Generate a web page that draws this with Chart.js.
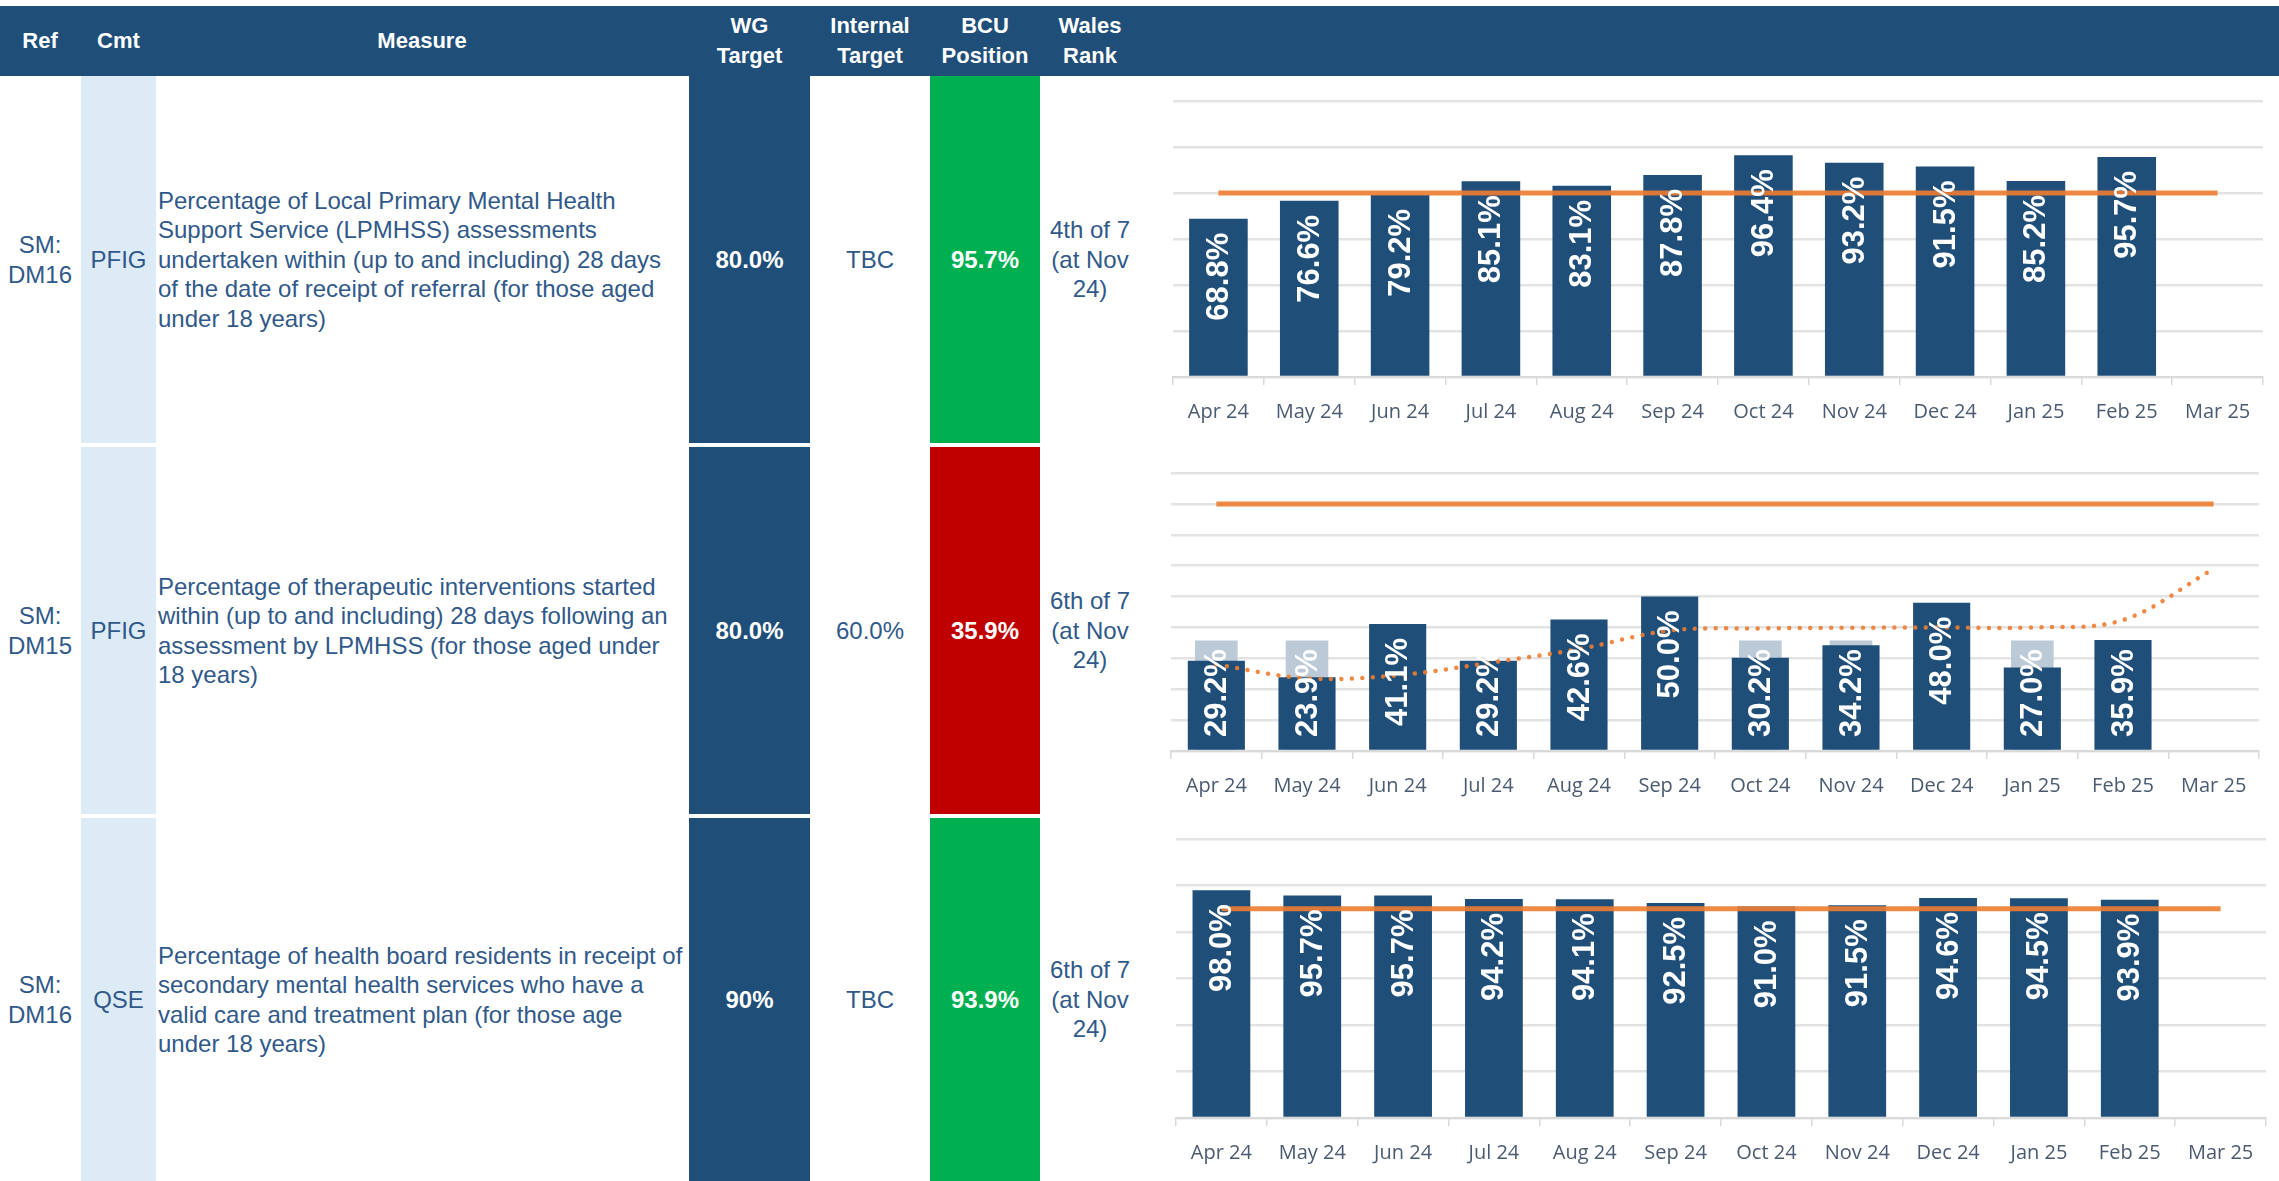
<!DOCTYPE html>
<html>
<head>
<meta charset="utf-8">
<script src="https://cdn.jsdelivr.net/npm/chart.js@4.4.1/dist/chart.umd.min.js"></script>
<style>
  html, body { margin: 0; padding: 0; background: #fff; }
  body { width: 2279px; height: 1181px; position: relative; overflow: hidden;
         font-family: "Liberation Sans", Arial, sans-serif; color: #30598a; }
  .box { position: absolute; display: flex; align-items: center; justify-content: center;
         text-align: center; white-space: nowrap; box-sizing: border-box; }
  .head { position: absolute; left: 0; top: 6px; width: 2279px; height: 70px; background: #1f4e79; }
  .hcell { color: #fff; font-weight: bold; font-size: 22px; line-height: 30px; top: 6px; height: 70px; }
  .cell { font-size: 24px; line-height: 29.5px; }
  .measure { justify-content: flex-start; text-align: left; }
  .dark { background: #1f4e79; color: #fff; font-weight: bold; }
  .light { background: #ddebf7; }
  .pos { color: #fff; font-weight: bold; }
  .chartbox { position: absolute; left: 1160px; }
</style>
</head>
<body>
<div class="head"></div>
<div id="table"></div>

<div class="chartbox" style="top:76px;width:1119px;height:367px"><canvas id="chartDm16" width="1119" height="367"></canvas></div>
<div class="chartbox" style="top:447px;width:1119px;height:367px"><canvas id="chartDm15" width="1119" height="367"></canvas></div>
<div class="chartbox" style="top:818px;width:1119px;height:363px"><canvas id="chartCtp" width="1119" height="363"></canvas></div>

<script>
// Month axis shared by all three charts
const months = ['Apr 24', 'May 24', 'Jun 24', 'Jul 24', 'Aug 24', 'Sep 24',
                'Oct 24', 'Nov 24', 'Dec 24', 'Jan 25', 'Feb 25', 'Mar 25'];

// DM16 - LPMHSS assessments within 28 days (%)
const assessmentsWithin28 = [68.8, 76.6, 79.2, 85.1, 83.1, 87.8, 96.4, 93.2, 91.5, 85.2, 95.7];
// DM15 - therapeutic interventions started within 28 days (%)
const interventionsWithin28 = [29.2, 23.9, 41.1, 29.2, 42.6, 50.0, 30.2, 34.2, 48.0, 27.0, 35.9];
const interventionsBackdrop = [35.8, 35.8, null, null, null, null, 35.8, 35.8, null, 35.8, null];
const interventionsTrajectory = [28.0, 23.5, 24.5, 28.5, 33.0, 39.0, 39.7, 39.9, 40.0, 40.0, 42.4, 59.0];
// DM16 (QSE) - valid care and treatment plan (%)
const validCarePlans = [98.0, 95.7, 95.7, 94.2, 94.1, 92.5, 91.0, 91.5, 94.6, 94.5, 93.9];

// WG targets per chart
const wgTargets = [80, 80, 90];

// Scorecard table columns
const headers = ['Ref', 'Cmt', 'Measure', 'WG<br>Target', 'Internal<br>Target', 'BCU<br>Position', 'Wales<br>Rank'];
const refs = ['SM:<br>DM16', 'SM:<br>DM15', 'SM:<br>DM16'];
const cmts = ['PFIG', 'PFIG', 'QSE'];
const measures = [
  'Percentage of Local Primary Mental Health<br>Support Service (LPMHSS) assessments<br>undertaken within (up to and including) 28 days<br>of the date of receipt of referral (for those aged<br>under 18 years)',
  'Percentage of therapeutic interventions started<br>within (up to and including) 28 days following an<br>assessment by LPMHSS (for those aged under<br>18 years)',
  'Percentage of health board residents in receipt of<br>secondary mental health services who have a<br>valid care and treatment plan (for those age<br>under 18 years)'
];
const wgTargetText = ['80.0%', '80.0%', '90%'];
const internalTargets = ['TBC', '60.0%', 'TBC'];
const bcuPositions = ['95.7%', '35.9%', '93.9%'];
const bcuColours = ['#00b050', '#c00000', '#00b050'];
const walesRanks = ['4th of 7<br>(at Nov<br>24)', '6th of 7<br>(at Nov<br>24)', '6th of 7<br>(at Nov<br>24)'];

// column layout: [left, width]
const cols = [[0, 80], [81, 75], [158, 530], [689, 121], [810, 120], [930, 110], [1040, 100]];
const rowTops = [76, 447, 818];
const rowHeights = [367, 367, 363];

const table = document.getElementById('table');
function addBox(cls, x, y, w, h, html, style) {
  const d = document.createElement('div');
  d.className = 'box ' + cls;
  d.style.left = x + 'px'; d.style.top = y + 'px';
  d.style.width = w + 'px'; d.style.height = h + 'px';
  if (style) Object.assign(d.style, style);
  d.innerHTML = html;
  table.appendChild(d);
}

headers.forEach((h, i) => {
  const [x, w] = cols[i];
  const hx = i === 2 ? 156 : x;
  const hw = i === 2 ? 532 : w;
  addBox('hcell', hx, 6, hw, 70, h);
});

rowTops.forEach((top, r) => {
  const h = rowHeights[r];
  addBox('cell', cols[0][0], top, cols[0][1], h, refs[r]);
  addBox('cell light', cols[1][0], top, cols[1][1], h, cmts[r]);
  addBox('cell measure', cols[2][0], top, cols[2][1], h, measures[r]);
  addBox('cell dark', cols[3][0], top, cols[3][1], h, wgTargetText[r]);
  addBox('cell', cols[4][0], top, cols[4][1], h, internalTargets[r]);
  addBox('cell pos', cols[5][0], top, cols[5][1], h, bcuPositions[r], { background: bcuColours[r] });
  addBox('cell', cols[6][0], top, cols[6][1], h, walesRanks[r]);
});

// Rotated white value labels, placed inside the top of each bar
const valueLabels = {
  id: 'valueLabels',
  afterDatasetsDraw(chart) {
    const ctx = chart.ctx;
    const base = chart.scales.y.getPixelForValue(0);
    chart.data.datasets.forEach((ds, i) => {
      if (!ds.valueLabels) return;
      chart.getDatasetMeta(i).data.forEach((bar, j) => {
        const v = ds.data[j];
        if (v == null) return;
        const text = v.toFixed(1) + '%';
        ctx.save();
        ctx.font = 'bold 31px "Liberation Sans", Arial, sans-serif';
        const w = ctx.measureText(text).width;
        let end = bar.y + 14 + w;
        if (end > base - 14) end = base - 14;
        ctx.translate(bar.x, end);
        ctx.rotate(-Math.PI / 2);
        ctx.fillStyle = '#ffffff';
        ctx.textAlign = 'left';
        ctx.textBaseline = 'middle';
        ctx.fillText(text, 0, 1);
        ctx.restore();
      });
    });
  }
};

const navy = '#1f4e79';
const orange = 'rgba(237, 125, 49, 0.9)';

function makeChart(id, cfg) {
  const canvas = document.getElementById(id);
  const H = canvas.height;
  new Chart(canvas.getContext('2d'), {
    type: 'bar',
    data: { labels: months, datasets: cfg.datasets },
    options: {
      responsive: false,
      animation: false,
      events: [],
      layout: { padding: { left: cfg.pad[0], right: cfg.pad[1], top: cfg.pad[2], bottom: 0 } },
      plugins: { legend: { display: false }, tooltip: { enabled: false } },
      scales: {
        x: {
          afterFit: (scale) => { scale.height = H - cfg.axisY; },
          grid: { drawOnChartArea: false, drawTicks: true, tickLength: 8, color: '#d9d9d9', lineWidth: 1.5 },
          border: { display: true, color: '#d9d9d9', width: 2 },
          ticks: { color: '#4a5a70', padding: 15, font: { family: '"Open Sans", sans-serif', size: 20 } }
        },
        y: {
          min: 0, max: cfg.max,
          afterFit: (scale) => { scale.width = 0; },
          ticks: { display: false, stepSize: cfg.step },
          border: { display: false },
          grid: { drawTicks: false, color: '#e3e3e3', lineWidth: 2.5 }
        }
      }
    },
    plugins: [valueLabels]
  });
}

function targetLine(value) {
  return {
    type: 'line', order: 0,
    data: months.map(() => value),
    borderColor: orange, borderWidth: 5, pointRadius: 0
  };
}

function mainBars(values, pct) {
  return {
    type: 'bar', order: 1, grouped: false, valueLabels: true,
    data: values, backgroundColor: navy,
    categoryPercentage: 1, barPercentage: pct
  };
}

makeChart('chartDm16', {
  pad: [13, 16, 25], axisY: 301, max: 120, step: 20,
  datasets: [targetLine(wgTargets[0]), mainBars(assessmentsWithin28, 0.645)]
});

makeChart('chartDm15', {
  pad: [11, 20, 26], axisY: 304, max: 90, step: 10,
  datasets: [
    targetLine(wgTargets[1]),
    {
      type: 'line', order: 0,
      data: interventionsTrajectory,
      borderColor: orange, borderWidth: 4.5, borderDash: [0.01, 10.5], borderCapStyle: 'round',
      tension: 0.35, pointRadius: 0
    },
    mainBars(interventionsWithin28, 0.63),
    {
      type: 'bar', order: 2, grouped: false,
      data: interventionsBackdrop, backgroundColor: '#bccad8',
      categoryPercentage: 1, barPercentage: 0.47
    }
  ]
});

makeChart('chartCtp', {
  pad: [16, 13, 21], axisY: 300, max: 120, step: 20,
  datasets: [targetLine(wgTargets[2]), mainBars(validCarePlans, 0.636)]
});
</script>
</body>
</html>
